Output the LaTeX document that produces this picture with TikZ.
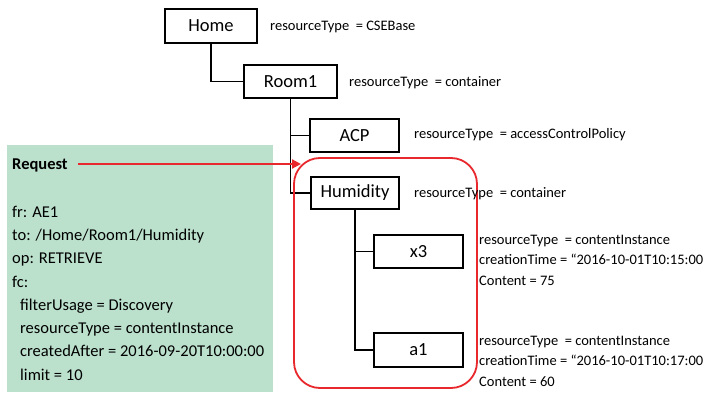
\documentclass[tikz,border=0pt]{standalone}
\usepackage{fontspec}
\setmainfont{Carlito}
\usetikzlibrary{arrows.meta}
\definecolor{reqgreen}{RGB}{187,224,204}
\definecolor{selred}{RGB}{232,40,44}
\tikzset{
  res/.style={draw=black, line width=1.3pt, fill=white, font=\fontsize{18.5}{20}\selectfont, inner sep=0pt},
  conn/.style={draw=black, line width=1.3pt},
  attr/.style={anchor=base west, inner sep=0pt, font=\fontsize{14.5}{17}\selectfont},
  reqtxt/.style={anchor=base west, inner sep=0pt, font=\fontsize{16.5}{19}\selectfont},
}
\begin{document}
\begin{tikzpicture}[x=1pt,y=-1pt]
\useasboundingbox (0,0) rectangle (707,393);
% request box
\node[fill=reqgreen, minimum width=266pt, minimum height=247pt, inner sep=0pt, anchor=north west] (reqbox) at (7,145) {};
\node[reqtxt, font=\fontsize{16.5}{19}\selectfont\bfseries] (req) at (12,169) {Request};
\node[reqtxt] (fr) at (12,217) {fr: AE1};
\node[reqtxt] (to) at (12,240.3) {to: /Home/Room1/Humidity};
\node[reqtxt] (op) at (12,263.6) {op: RETRIEVE};
\node[reqtxt] (fc) at (12,287) {fc:};
\node[reqtxt] (fu) at (20,310.2) {filterUsage = Discovery};
\node[reqtxt] (rt) at (20,333.5) {resourceType = contentInstance};
\node[reqtxt] (ca) at (20,356.8) {createdAfter = 2016-09-20T10:00:00};
\node[reqtxt] (lim) at (20,380) {limit = 10};
% resource nodes
\node[res, minimum width=92pt, minimum height=34pt] (home) at (211,26) {Home};
\node[res, minimum width=93pt, minimum height=33pt] (room) at (290.5,81.5) {Room1};
\node[res, minimum width=89pt, minimum height=33pt] (acp) at (354.5,135.5) {ACP};
\node[res, minimum width=88pt, minimum height=32pt] (hum) at (355,193) {Humidity};
\node[res, minimum width=89pt, minimum height=33pt] (x3) at (418.5,251.5) {x3};
\node[res, minimum width=89pt, minimum height=34pt] (a1) at (418.5,350) {a1};
% connectors
\draw[conn] (home.south) |- (room.west);
\draw[conn] (room.south) |- (acp.west);
\draw[conn] (room.south) |- (hum.west);
\draw[conn] (hum.south) |- (x3.west);
\draw[conn] (hum.south) |- (a1.west);
% redraw nodes on top of connectors
\node[res, minimum width=92pt, minimum height=34pt] at (home) {Home};
\node[res, minimum width=93pt, minimum height=33pt] at (room) {Room1};
\node[res, minimum width=89pt, minimum height=33pt] at (acp) {ACP};
\node[res, minimum width=88pt, minimum height=32pt] at (hum) {Humidity};
\node[res, minimum width=89pt, minimum height=33pt] at (x3) {x3};
\node[res, minimum width=89pt, minimum height=34pt] at (a1) {a1};
% selection
\node[draw=selred, line width=1.8pt, rounded corners=26pt, minimum width=183pt, minimum height=230pt, inner sep=0pt] (sel) at (385.5,273) {};
\coordinate (arrend) at (301,164);
\draw[draw=selred, line width=2.2pt, -{Triangle[length=9pt,width=9pt]}] ([xshift=10pt]req.east |- arrend) -- (arrend);
% attribute labels
\node[attr] (lhome) at (270,31) {resourceType~ = CSEBase};
\node[attr] (lroom) at (349,87) {resourceType~ = container};
\node[attr] (lacp) at (414,139) {resourceType~ = accessControlPolicy};
\node[attr] (lhum) at (414,197) {resourceType~ = container};
\node[attr] (lx3a) at (479,244) {resourceType~ = contentInstance};
\node[attr] (lx3b) at (479,264.5) {creationTime = “2016-10-01T10:15:00};
\node[attr] (lx3c) at (479,285) {Content = 75};
\node[attr] (la1a) at (479,345) {resourceType~ = contentInstance};
\node[attr] (la1b) at (479,365.5) {creationTime = “2016-10-01T10:17:00};
\node[attr] (la1c) at (479,386) {Content = 60};
\end{tikzpicture}
\end{document}
